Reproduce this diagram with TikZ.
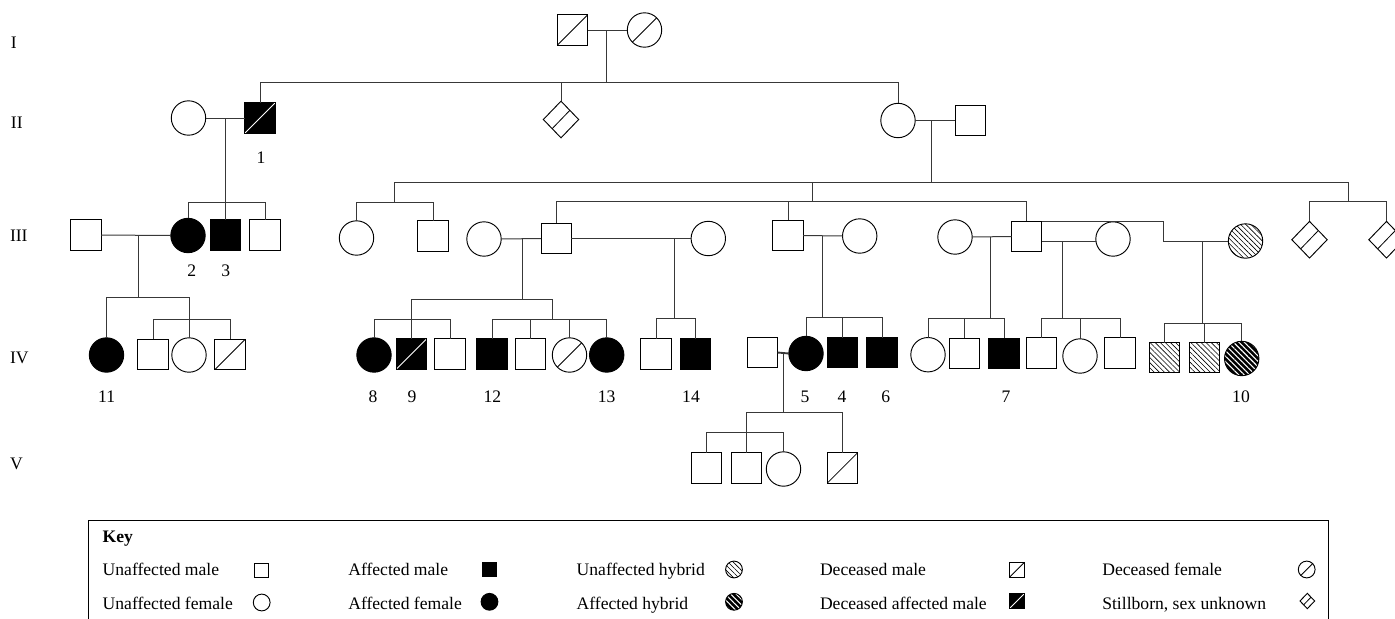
\documentclass[tikz,border=0pt]{standalone}
\usepackage{fontspec}
\setmainfont{Liberation Serif}
\usetikzlibrary{shapes.geometric,patterns.meta,calc}
\begin{document}
\begin{tikzpicture}[x=0.75pt,y=-0.75pt,
  every node/.style={inner sep=0pt,outer sep=0pt},
  shp/.style={draw=black,line width=0.7pt},
  msq/.style={shp,rectangle,minimum size=22.6pt},
  fci/.style={shp,circle,minimum size=25.8pt},
  sbd/.style={shp,diamond,minimum width=26.5pt,minimum height=27.5pt,sbline},
  kmsq/.style={shp,rectangle,minimum size=11pt},
  kfci/.style={shp,circle,minimum size=12.6pt},
  ksbd/.style={shp,diamond,minimum width=11pt,minimum height=11.5pt,sbline},
  aff/.style={fill=black},
  dcd/.style={path picture={\draw[line width=0.6pt] (path picture bounding box.south west) -- (path picture bounding box.north east);}},
  dcdaff/.style={fill=black,path picture={\draw[white,line width=0.6pt] (path picture bounding box.south west) -- (path picture bounding box.north east);}},
  sbline/.style={path picture={\draw[line width=0.6pt] ($(path picture bounding box.north)!0.5!(path picture bounding box.east)$) -- ($(path picture bounding box.west)!0.5!(path picture bounding box.south)$);}},
  hatch/.style={pattern={Lines[angle=-45,distance=2.7pt,line width=0.45pt]},pattern color=black},
  affhatch/.style={preaction={fill=black},pattern={Lines[angle=-45,distance=2.9pt,line width=0.8pt]},pattern color=white},
  ln/.style={line width=0.75pt,black!78},
  txt/.style={font=\fontsize{13.2}{15}\selectfont},
  btxt/.style={font=\fontsize{13.2}{15}\selectfont\bfseries}
]
\useasboundingbox (0,0) rectangle (1395,618);

% generation labels
\node[txt,anchor=base west] (gI) at (11,48) {I};
\node[txt,anchor=base west] (gII) at (11,128.3) {II};
\node[txt,anchor=base west] (gIII) at (10,241.7) {III};
\node[txt,anchor=base west] (gIV) at (10,363.3) {IV};
\node[txt,anchor=base west] (gV) at (10,469) {V};

% Generation I
\node[msq,dcd] (I1) at (572.5,30) {};
\node[fci,dcd] (I2) at (644.5,30) {};
\coordinate (cI) at (606,30);
\coordinate (sI) at (606,82);
\draw[ln] (I1.east) -- (I2.west);
\draw[ln] (cI) -- (sI);

% Generation II
\node[fci] (IIw) at (188.5,118) {};
\node[msq,dcdaff] (II1) at (260,118) {};
\node[sbd] (IIsb) at (561,119.5) {};
\node[fci] (IIf) at (898,120.5) {};
\node[msq] (IIm) at (970.5,120.5) {};
\draw[ln] (II1.north |- sI) -- (IIf.north |- sI);
\draw[ln] (II1.north |- sI) -- (II1.north);
\draw[ln] (IIsb.north |- sI) -- (IIsb.north);
\draw[ln] (IIf.north |- sI) -- (IIf.north);
\draw[ln] (IIw.east) -- (II1.west);
\coordinate (cIIa) at (225.5,118);
\draw[ln] (IIf.east) -- (IIm.west);
\coordinate (cIIb) at (931,120.5);
\coordinate (sIIb) at (931,182);
\draw[ln] (cIIb) -- (sIIb);

% Generation III, left family
\node[msq] (IIIsp) at (86,235) {};
\node[fci,aff] (III2) at (188,235.5) {};
\node[msq,aff] (III3) at (225.5,235) {};
\node[msq] (III4) at (265,235) {};
\coordinate (sIIIa) at (225.5,202);
\draw[ln] (cIIa) -- (III3.north);
\draw[ln] (III2.north) -- (III2.north |- sIIIa) -- (III4.north |- sIIIa) -- (III4.north);
\draw[ln] (IIIsp.east) -- (III2.west);
\coordinate (cIIIa) at (138,235);
\coordinate (sIVa) at (138,297.7);
\draw[ln] (cIIIa) -- (sIVa);
\node[fci,aff] (IV11) at (106.5,355) {};
\node[msq] (IVa) at (153,354.5) {};
\node[fci] (IVb) at (189,355) {};
\node[msq,dcd] (IVc) at (230,354.5) {};
\coordinate (sIVa2) at (153,319.7);
\draw[ln] (IV11.north) -- (IV11.north |- sIVa) -- (IVb.north |- sIVa) -- (IVb.north);
\draw[ln] (IVa.north) -- (IVa.north |- sIVa2) -- (IVc.north |- sIVa2) -- (IVc.north);

% big sibship of II right couple
\coordinate (gA) at (394,182);
\coordinate (gB) at (812,182);
\coordinate (gC) at (1348,182);
\coordinate (gAs) at (394,202);
\coordinate (gBs) at (812,201);
\coordinate (gCs) at (1348,201.5);
\draw[ln] (gA) -- (gC);
\draw[ln] (gA) -- (gAs);
\draw[ln] (gB) -- (gBs);
\draw[ln] (gC) -- (gCs);

% sibship A
\node[fci] (IIIA1) at (356.5,238) {};
\node[msq] (IIIA2) at (433,236) {};
\draw[ln] (IIIA1.north) -- (IIIA1.north |- gAs) -- (IIIA2.north |- gAs) -- (IIIA2.north);

% sibship B
\node[fci] (w1) at (484,239) {};
\node[msq] (M1) at (556.3,238.5) {};
\node[fci] (w2) at (708.3,238.5) {};
\node[msq] (M2) at (788,235.5) {};
\node[fci] (w3) at (859.7,236) {};
\node[fci] (w4) at (955,237) {};
\node[msq] (M3) at (1026.7,236.5) {};
\node[fci] (w5) at (1113,239) {};
\node[fci,hatch] (hw) at (1245.5,241) {};
\draw[ln] (M1.north) -- (M1.north |- gBs) -- (M3.north |- gBs) -- (M3.north);
\draw[ln] (M2.north |- gBs) -- (M2.north);

% M1 families
\draw[ln] (w1.east) -- (M1.west);
\coordinate (cM1a) at (522.3,238.8);
\coordinate (sM1a) at (522.3,299.7);
\draw[ln] (cM1a) -- (sM1a);
\draw[ln] (M1.east) -- (w2.west);
\coordinate (cM1b) at (674,238.5);
\coordinate (sM1b) at (674,318);
\draw[ln] (cM1b) -- (sM1b);

\node[fci,aff] (IV8) at (374,355) {};
\node[msq,dcdaff] (IV9) at (411.5,354) {};
\node[msq] (IVd) at (450,354) {};
\node[msq,aff] (IV12) at (492,354) {};
\node[msq] (IVe) at (530.3,354) {};
\node[fci,dcd] (IVdf) at (569.5,355) {};
\node[fci,aff] (IV13) at (606.7,355) {};
\coordinate (kR) at (552.3,299.7);
\coordinate (kR2) at (552.3,319.7);
\coordinate (kL) at (411.5,319.7);
\draw[ln] (IV9.north) -- (IV9.north |- sM1a) -- (kR) -- (kR2);
\draw[ln] (IV8.north) -- (IV8.north |- kL) -- (IVd.north |- kL) -- (IVd.north);
\draw[ln] (IV12.north) -- (IV12.north |- kR2) -- (IV13.north |- kR2) -- (IV13.north);
\draw[ln] (IVe.north |- kR2) -- (IVe.north);
\draw[ln] (IVdf.north |- kR2) -- (IVdf.north);

\node[msq] (IVf) at (656,354) {};
\node[msq,aff] (IV14) at (695.7,354) {};
\draw[ln] (IVf.north) -- (IVf.north |- sM1b) -- (IV14.north |- sM1b) -- (IV14.north);

% M2 family
\draw[ln] (M2.east) -- (w3.west);
\coordinate (cM2) at (822.7,236);
\coordinate (sM2) at (822.7,317.3);
\draw[ln] (cM2) -- (sM2);
\node[msq] (IVsp) at (762.5,352.5) {};
\node[fci,aff] (IV5) at (806,353.5) {};
\node[msq,aff] (IV4) at (842.5,352.7) {};
\node[msq,aff] (IV6) at (882,352.7) {};
\draw[ln] (IV5.north) -- (IV5.north |- sM2) -- (IV6.north |- sM2) -- (IV6.north);
\draw[ln] (IV4.north |- sM2) -- (IV4.north);
\draw[ln,line width=1.4pt] (IVsp.east) -- (IV5.west);
\coordinate (cIV5) at (783.3,352.5);
\coordinate (sV) at (783.3,412.7);
\draw[ln] (cIV5) -- (sV);

\node[msq] (V1) at (706.7,468) {};
\node[msq] (V2) at (746.7,468) {};
\node[fci] (V3) at (783.5,469) {};
\node[msq,dcd] (V4) at (842.3,468) {};
\coordinate (sV2) at (746.7,432.7);
\draw[ln] (V2.north) -- (V2.north |- sV) -- (V4.north |- sV) -- (V4.north);
\draw[ln] (V1.north) -- (V1.north |- sV2) -- (V3.north |- sV2) -- (V3.north);

% M3 families
\draw[ln] (w4.east) -- (M3.west);
\coordinate (cM3a) at (990.7,237);
\coordinate (sM3a) at (990.7,318.5);
\draw[ln] (cM3a) -- (sM3a);
\node[fci] (IVg) at (928,354.7) {};
\node[msq] (IVh) at (964.7,353.5) {};
\node[msq,aff] (IV7) at (1004,353.5) {};
\draw[ln] (IVg.north) -- (IVg.north |- sM3a) -- (IV7.north |- sM3a) -- (IV7.north);
\draw[ln] (IVh.north |- sM3a) -- (IVh.north);

\coordinate (cM3b) at (1062.3,241.7);
\coordinate (sM3b) at (1062.3,318.3);
\draw[ln] (M3.east |- cM3b) -- (w5.west |- cM3b);
\draw[ln] (cM3b) -- (sM3b);
\node[msq] (IVi) at (1041.7,353) {};
\node[fci] (IVj) at (1080,356) {};
\node[msq] (IVk) at (1120,353) {};
\draw[ln] (IVi.north) -- (IVi.north |- sM3b) -- (IVk.north |- sM3b) -- (IVk.north);
\draw[ln] (IVj.north |- sM3b) -- (IVj.north);

\coordinate (t2) at (1163.3,241);
\draw[ln] (M3.north east) -| (t2) -- (hw.west);
\coordinate (cM3c) at (1202.7,241);
\coordinate (sM3c) at (1202.7,323);
\draw[ln] (cM3c) -- (sM3c);
\node[msq,hatch] (IVh1) at (1164.7,357.7) {};
\node[msq,hatch] (IVh2) at (1204.7,357.7) {};
\node[fci,affhatch] (IV10) at (1241.7,358.5) {};
\draw[ln] (IVh1.north) -- (IVh1.north |- sM3c) -- (IV10.north |- sM3c) -- (IV10.north);
\draw[ln] (IVh2.north |- sM3c) -- (IVh2.north);

% stillborn twins
\node[sbd] (SB1) at (1309.5,239.7) {};
\node[sbd] (SB2) at (1386.5,239.7) {};
\draw[ln] (SB1.north) -- (SB1.north |- gCs) -- (SB2.north |- gCs) -- (SB2.north);

% individual numbers
\node[txt,anchor=base] (n1) at (261,163.3) {1};
\node[txt,anchor=base] (n2) at (191.7,276.7) {2};
\node[txt,anchor=base] (n3) at (225.7,276.7) {3};
\node[txt,anchor=base] (n11) at (106.7,402.3) {11};
\node[txt,anchor=base] (n8) at (373,402.3) {8};
\node[txt,anchor=base] (n9) at (412,402.3) {9};
\node[txt,anchor=base] (n12) at (492.3,402.3) {12};
\node[txt,anchor=base] (n13) at (606.7,402.3) {13};
\node[txt,anchor=base] (n14) at (691,402.3) {14};
\node[txt,anchor=base] (n5) at (805,402.3) {5};
\node[txt,anchor=base] (n4) at (842,402.3) {4};
\node[txt,anchor=base] (n6) at (885.7,402.3) {6};
\node[txt,anchor=base] (n7) at (1006,402.3) {7};
\node[txt,anchor=base] (n10) at (1241,402.3) {10};

% key
\node[draw=black,line width=0.7pt,anchor=north west,minimum width=930pt,minimum height=90pt] (keybox) at (88,520) {};
\node[btxt,anchor=base west] (kt) at (102.7,542.7) {Key};
\node[txt,anchor=base west] (k1a) at (102.7,575.7) {Unaffected male};
\node[txt,anchor=base west] (k1b) at (102.7,609.3) {Unaffected female};
\node[txt,anchor=base west] (k2a) at (348.3,575.7) {Affected male};
\node[txt,anchor=base west] (k2b) at (348.3,609.3) {Affected female};
\node[txt,anchor=base west] (k3a) at (576.7,575.7) {Unaffected hybrid};
\node[txt,anchor=base west] (k3b) at (576.7,609.3) {Affected hybrid};
\node[txt,anchor=base west] (k4a) at (820,575.7) {Deceased male};
\node[txt,anchor=base west] (k4b) at (820,609.3) {Deceased affected male};
\node[txt,anchor=base west] (k5a) at (1102.3,575.7) {Deceased female};
\node[txt,anchor=base west] (k5b) at (1102.3,609.3) {Stillborn, sex unknown};

\node[kmsq] (s1a) at (261.5,570.5) {};
\node[kfci] (s1b) at (261.7,602.5) {};
\node[kmsq,aff] (s2a) at (489.5,569.5) {};
\node[kfci,aff] (s2b) at (489.5,601.8) {};
\node[kfci,hatch] (s3a) at (734,569.5) {};
\node[kfci,affhatch] (s3b) at (734,601.8) {};
\node[kmsq,dcd] (s4a) at (1017,569.7) {};
\node[kmsq,dcdaff] (s4b) at (1017,601) {};
\node[kfci,dcd] (s5a) at (1306.7,569.5) {};
\node[ksbd] (s5b) at (1307.3,601) {};
\end{tikzpicture}
\end{document}
